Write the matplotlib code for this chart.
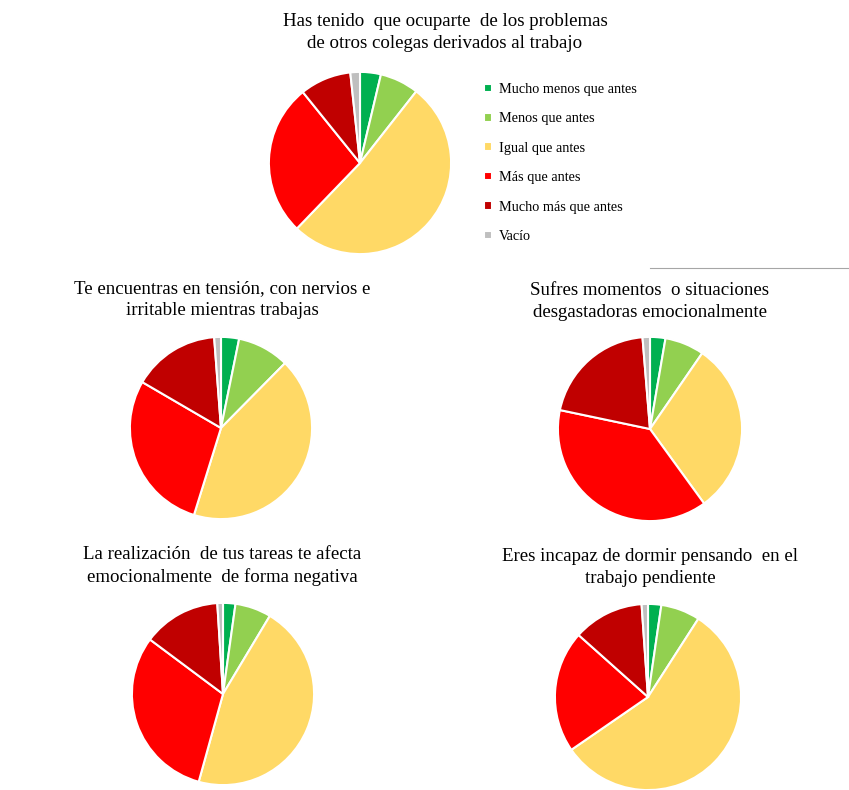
import numpy as np
from matplotlib import pyplot as plt

plt.rcParams['font.family'] = ['Liberation Serif', 'DejaVu Serif']

categorias = ['Mucho menos que antes', 'Menos que antes', 'Igual que antes',
              'Más que antes', 'Mucho más que antes', 'Vacío']
colores = ['#00B050', '#92D050', '#FFD966', '#FF0000', '#C00000', '#BFBFBF']

titulos = ['Has tenido  que ocuparte  de los problemas\nde otros colegas derivados al trabajo',
           'Te encuentras en tensión, con nervios e\nirritable mientras trabajas',
           'Sufres momentos  o situaciones\ndesgastadoras emocionalmente',
           'La realización  de tus tareas te afecta\nemocionalmente  de forma negativa',
           'Eres incapaz de dormir pensando  en el\ntrabajo pendiente']

ocuparse = [3.7, 6.9, 51.6, 27.0, 9.1, 1.7]
tension = [3.2, 9.2, 42.4, 28.6, 15.4, 1.2]
desgaste = [2.7, 6.9, 30.4, 38.3, 20.4, 1.3]
afecta = [2.2, 6.4, 45.7, 30.9, 13.8, 1.0]
dormir = [2.3, 6.8, 56.3, 21.2, 12.3, 1.1]
series = [ocuparse, tension, desgaste, afecta, dormir]

W, H = 849, 790
fig = plt.figure(figsize=(W / 100, H / 100), dpi=100)

# centro de cada tarta (px), radio (px), centro x y borde superior del título (px)
centros = [(360, 163), (221, 428), (650, 429), (223, 694), (648, 697)]
radios = [92, 92, 93, 92, 94]
pos_titulos = [(445, 13), (222, 280), (650, 282), (222, 546), (650, 548)]

cunas = None
for datos, (cx, cy), r, tit, (tx, ty) in zip(series, centros, radios, titulos, pos_titulos):
    ax = fig.add_axes([(cx - r) / W, (H - cy - r) / H, 2 * r / W, 2 * r / H])
    w, _ = ax.pie(datos, colors=colores, startangle=90, counterclock=False,
                  wedgeprops=dict(edgecolor='white', linewidth=1.5))
    ax.set_xlim(-1.01, 1.01)
    ax.set_ylim(-1.01, 1.01)
    ax.set_aspect('equal')
    if cunas is None:
        cunas = w
    fig.text(tx / W, 1 - ty / H, tit, ha='center', va='top', fontsize=13.6,
             linespacing=1.4)

fig.legend(cunas, categorias, loc='upper left', bbox_to_anchor=(471 / W, 1 - 70 / H),
           frameon=False, fontsize=10.3, handlelength=0.55, handleheight=0.55,
           handletextpad=0.5, labelspacing=1.15)

fig.add_artist(plt.Line2D([650 / W, 1], [1 - 268 / H, 1 - 268 / H],
                          color='#A6A6A6', linewidth=0.8))

plt.savefig('out.png', dpi=100)
